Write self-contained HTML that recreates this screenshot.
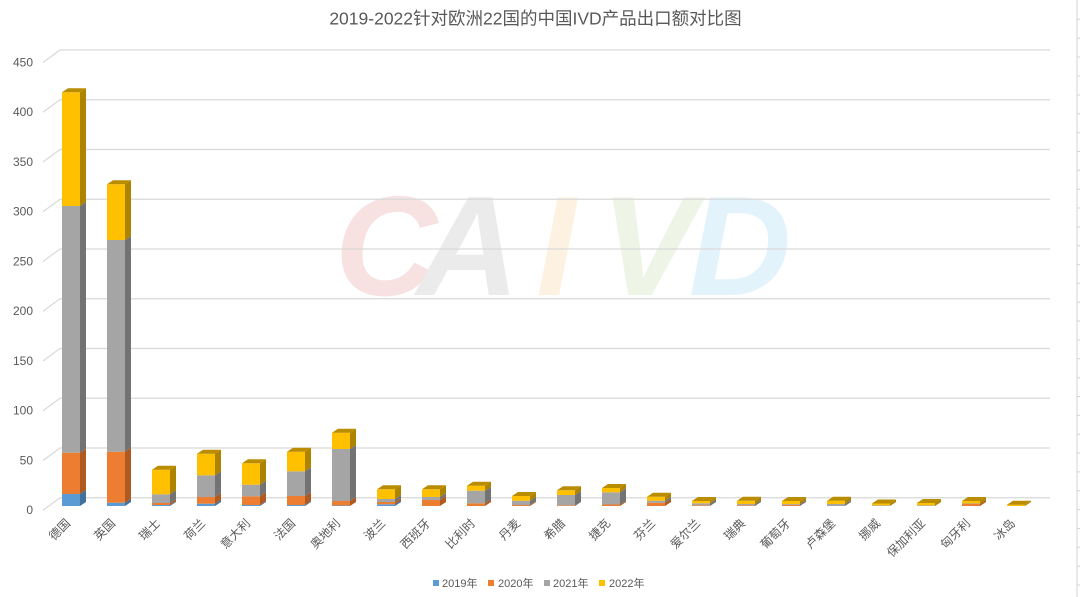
<!DOCTYPE html>
<html>
<head>
<meta charset="utf-8">
<style>
html,body{margin:0;padding:0;background:#fff;}
body{width:1080px;height:597px;overflow:hidden;}
svg{display:block;font-family:"Liberation Sans","Noto Sans CJK SC",sans-serif;}
</style>
</head>
<body>
<svg width="1080" height="597" viewBox="0 0 1080 597" xmlns="http://www.w3.org/2000/svg">
<rect width="1080" height="597" fill="#fff"/>

<!-- watermark -->
<g font-family="'Liberation Sans',sans-serif" font-weight="bold" font-style="italic" font-size="142" text-anchor="middle">
  <text x="386" y="295" fill="#f8e1e1">C</text>
  <text x="468" y="295" fill="#ebebeb">A</text>
  <text x="556" y="295" fill="#fdf2e2">I</text>
  <text x="648" y="295" fill="#eef5e7">V</text>
  <text x="740" y="295" fill="#e3f3fb">D</text>
</g>

<!-- gridlines -->
<g stroke="#d9d9d9" stroke-width="1.2" fill="none">
  <path d="M43,62.5 L60,50 H1050"/>
  <path d="M43,112.25 L60,99.75 H1050"/>
  <path d="M43,162 L60,149.5 H1050"/>
  <path d="M43,211.75 L60,199.25 H1050"/>
  <path d="M43,261.5 L60,249 H1050"/>
  <path d="M43,311.25 L60,298.75 H1050"/>
  <path d="M43,361 L60,348.5 H1050"/>
  <path d="M43,410.75 L60,398.25 H1050"/>
  <path d="M43,460.5 L60,448 H1050"/>
  <path d="M43,510.25 L60,497.75 H1050"/>
</g>

<!-- y labels -->
<g font-size="12" fill="#595959" text-anchor="end">
  <text x="33" y="66.5">450</text>
  <text x="33" y="116.2">400</text>
  <text x="33" y="166">350</text>
  <text x="33" y="215.7">300</text>
  <text x="33" y="265.5">250</text>
  <text x="33" y="315.2">200</text>
  <text x="33" y="365">150</text>
  <text x="33" y="414.7">100</text>
  <text x="33" y="464.5">50</text>
  <text x="33" y="514.2">0</text>
</g>

<!-- title -->
<text x="535.5" y="24.5" font-size="17.5" fill="#595959" text-anchor="middle">2019-2022针对欧洲22国的中国IVD产品出口额对比图</text>

<!-- bars -->
<g>
<!-- 1 德国 -->
<g transform="translate(62,0)">
  <rect x="0" y="494" width="18" height="12" fill="#5B9BD5"/><polygon points="18,506 24,502 24,490 18,494" fill="#41719C"/>
  <rect x="0" y="452.7" width="18" height="41.3" fill="#ED7D31"/><polygon points="18,494 24,490 24,448.7 18,452.7" fill="#AE5A21"/>
  <rect x="0" y="206" width="18" height="246.7" fill="#A5A5A5"/><polygon points="18,452.7 24,448.7 24,202 18,206" fill="#737373"/>
  <rect x="0" y="92.3" width="18" height="113.7" fill="#FFC000"/><polygon points="18,206 24,202 24,88.3 18,92.3" fill="#AD8300"/>
  <polygon points="0,92.3 18,92.3 24,88.3 6,88.3" fill="#BA8C00"/>
</g>
<!-- 2 英国 -->
<g transform="translate(107,0)">
  <rect x="0" y="502.7" width="18" height="3.3" fill="#5B9BD5"/><polygon points="18,506 24,502 24,498.7 18,502.7" fill="#41719C"/>
  <rect x="0" y="451.7" width="18" height="51" fill="#ED7D31"/><polygon points="18,502.7 24,498.7 24,447.7 18,451.7" fill="#AE5A21"/>
  <rect x="0" y="240" width="18" height="211.7" fill="#A5A5A5"/><polygon points="18,451.7 24,447.7 24,236 18,240" fill="#737373"/>
  <rect x="0" y="184.3" width="18" height="55.7" fill="#FFC000"/><polygon points="18,240 24,236 24,180.3 18,184.3" fill="#AD8300"/>
  <polygon points="0,184.3 18,184.3 24,180.3 6,180.3" fill="#BA8C00"/>
</g>
<!-- 3 瑞士 -->
<g transform="translate(152,0)">
  <rect x="0" y="505" width="18" height="1" fill="#5B9BD5"/><polygon points="18,506 24,502 24,501 18,505" fill="#41719C"/>
  <rect x="0" y="503" width="18" height="2" fill="#ED7D31"/><polygon points="18,505 24,501 24,499 18,503" fill="#AE5A21"/>
  <rect x="0" y="494.3" width="18" height="8.7" fill="#A5A5A5"/><polygon points="18,503 24,499 24,490.3 18,494.3" fill="#737373"/>
  <rect x="0" y="469.7" width="18" height="24.6" fill="#FFC000"/><polygon points="18,494.3 24,490.3 24,465.7 18,469.7" fill="#AD8300"/>
  <polygon points="0,469.7 18,469.7 24,465.7 6,465.7" fill="#BA8C00"/>
</g>
<!-- 4 荷兰 -->
<g transform="translate(197,0)">
  <rect x="0" y="503.7" width="18" height="2.3" fill="#5B9BD5"/><polygon points="18,506 24,502 24,499.7 18,503.7" fill="#41719C"/>
  <rect x="0" y="497" width="18" height="6.7" fill="#ED7D31"/><polygon points="18,503.7 24,499.7 24,493 18,497" fill="#AE5A21"/>
  <rect x="0" y="475.3" width="18" height="21.7" fill="#A5A5A5"/><polygon points="18,497 24,493 24,471.3 18,475.3" fill="#737373"/>
  <rect x="0" y="453.7" width="18" height="21.6" fill="#FFC000"/><polygon points="18,475.3 24,471.3 24,449.7 18,453.7" fill="#AD8300"/>
  <polygon points="0,453.7 18,453.7 24,449.7 6,449.7" fill="#BA8C00"/>
</g>
<!-- 5 意大利 -->
<g transform="translate(242,0)">
  <rect x="0" y="505" width="18" height="1" fill="#5B9BD5"/><polygon points="18,506 24,502 24,501 18,505" fill="#41719C"/>
  <rect x="0" y="496.3" width="18" height="8.7" fill="#ED7D31"/><polygon points="18,505 24,501 24,492.3 18,496.3" fill="#AE5A21"/>
  <rect x="0" y="484.7" width="18" height="11.6" fill="#A5A5A5"/><polygon points="18,496.3 24,492.3 24,480.7 18,484.7" fill="#737373"/>
  <rect x="0" y="463.3" width="18" height="21.4" fill="#FFC000"/><polygon points="18,484.7 24,480.7 24,459.3 18,463.3" fill="#AD8300"/>
  <polygon points="0,463.3 18,463.3 24,459.3 6,459.3" fill="#BA8C00"/>
</g>
<!-- 6 法国 -->
<g transform="translate(287,0)">
  <rect x="0" y="505" width="18" height="1" fill="#5B9BD5"/><polygon points="18,506 24,502 24,501 18,505" fill="#41719C"/>
  <rect x="0" y="496" width="18" height="9" fill="#ED7D31"/><polygon points="18,505 24,501 24,492 18,496" fill="#AE5A21"/>
  <rect x="0" y="471.3" width="18" height="24.7" fill="#A5A5A5"/><polygon points="18,496 24,492 24,467.3 18,471.3" fill="#737373"/>
  <rect x="0" y="451.7" width="18" height="19.6" fill="#FFC000"/><polygon points="18,471.3 24,467.3 24,447.7 18,451.7" fill="#AD8300"/>
  <polygon points="0,451.7 18,451.7 24,447.7 6,447.7" fill="#BA8C00"/>
</g>
<!-- 7 奥地利 -->
<g transform="translate(332,0)">
  <rect x="0" y="505.5" width="18" height="0.5" fill="#5B9BD5"/>
  <rect x="0" y="501" width="18" height="4.5" fill="#ED7D31"/><polygon points="18,506 24,502 24,497 18,501" fill="#AE5A21"/>
  <rect x="0" y="449" width="18" height="52" fill="#A5A5A5"/><polygon points="18,501 24,497 24,445 18,449" fill="#737373"/>
  <rect x="0" y="432.7" width="18" height="16.3" fill="#FFC000"/><polygon points="18,449 24,445 24,428.7 18,432.7" fill="#AD8300"/>
  <polygon points="0,432.7 18,432.7 24,428.7 6,428.7" fill="#BA8C00"/>
</g>
<!-- 8 波兰 -->
<g transform="translate(377,0)">
  <rect x="0" y="504.3" width="18" height="1.7" fill="#5B9BD5"/><polygon points="18,506 24,502 24,500.3 18,504.3" fill="#41719C"/>
  <rect x="0" y="502" width="18" height="2.3" fill="#ED7D31"/><polygon points="18,504.3 24,500.3 24,498 18,502" fill="#AE5A21"/>
  <rect x="0" y="499" width="18" height="3" fill="#A5A5A5"/><polygon points="18,502 24,498 24,495 18,499" fill="#737373"/>
  <rect x="0" y="489.3" width="18" height="9.7" fill="#FFC000"/><polygon points="18,499 24,495 24,485.3 18,489.3" fill="#AD8300"/>
  <polygon points="0,489.3 18,489.3 24,485.3 6,485.3" fill="#BA8C00"/>
</g>
<!-- 9 西班牙 -->
<g transform="translate(422,0)">
  <rect x="0" y="500" width="18" height="6" fill="#ED7D31"/><polygon points="18,506 24,502 24,496 18,500" fill="#AE5A21"/>
  <rect x="0" y="497" width="18" height="3" fill="#A5A5A5"/><polygon points="18,500 24,496 24,493 18,497" fill="#737373"/>
  <rect x="0" y="489.3" width="18" height="7.7" fill="#FFC000"/><polygon points="18,497 24,493 24,485.3 18,489.3" fill="#AD8300"/>
  <polygon points="0,489.3 18,489.3 24,485.3 6,485.3" fill="#BA8C00"/>
</g>
<!-- 10 比利时 -->
<g transform="translate(467,0)">
  <rect x="0" y="503.3" width="18" height="2.7" fill="#ED7D31"/><polygon points="18,506 24,502 24,499.3 18,503.3" fill="#AE5A21"/>
  <rect x="0" y="490.7" width="18" height="12.6" fill="#A5A5A5"/><polygon points="18,503.3 24,499.3 24,486.7 18,490.7" fill="#737373"/>
  <rect x="0" y="485.7" width="18" height="5" fill="#FFC000"/><polygon points="18,490.7 24,486.7 24,481.7 18,485.7" fill="#AD8300"/>
  <polygon points="0,485.7 18,485.7 24,481.7 6,481.7" fill="#BA8C00"/>
</g>
<!-- 11 丹麦 -->
<g transform="translate(512,0)">
  <rect x="0" y="505" width="18" height="1" fill="#ED7D31"/><polygon points="18,506 24,502 24,501 18,505" fill="#AE5A21"/>
  <rect x="0" y="500.7" width="18" height="4.3" fill="#A5A5A5"/><polygon points="18,505 24,501 24,496.7 18,500.7" fill="#737373"/>
  <rect x="0" y="496" width="18" height="4.7" fill="#FFC000"/><polygon points="18,500.7 24,496.7 24,492 18,496" fill="#AD8300"/>
  <polygon points="0,496 18,496 24,492 6,492" fill="#BA8C00"/>
</g>
<!-- 12 希腊 -->
<g transform="translate(557,0)">
  <rect x="0" y="505.3" width="18" height="0.7" fill="#ED7D31"/>
  <rect x="0" y="495" width="18" height="10.3" fill="#A5A5A5"/><polygon points="18,506 24,502 24,491 18,495" fill="#737373"/>
  <rect x="0" y="490.3" width="18" height="4.7" fill="#FFC000"/><polygon points="18,495 24,491 24,486.3 18,490.3" fill="#AD8300"/>
  <polygon points="0,490.3 18,490.3 24,486.3 6,486.3" fill="#BA8C00"/>
</g>
<!-- 13 捷克 -->
<g transform="translate(602,0)">
  <rect x="0" y="504.5" width="18" height="1.5" fill="#ED7D31"/><polygon points="18,506 24,502 24,500.5 18,504.5" fill="#AE5A21"/>
  <rect x="0" y="492.3" width="18" height="12.2" fill="#A5A5A5"/><polygon points="18,504.5 24,500.5 24,488.3 18,492.3" fill="#737373"/>
  <rect x="0" y="488" width="18" height="4.3" fill="#FFC000"/><polygon points="18,492.3 24,488.3 24,484 18,488" fill="#AD8300"/>
  <polygon points="0,488 18,488 24,484 6,484" fill="#BA8C00"/>
</g>
<!-- 14 芬兰 -->
<g transform="translate(647,0)">
  <rect x="0" y="502.7" width="18" height="3.3" fill="#ED7D31"/><polygon points="18,506 24,502 24,498.7 18,502.7" fill="#AE5A21"/>
  <rect x="0" y="500.7" width="18" height="2" fill="#A5A5A5"/><polygon points="18,502.7 24,498.7 24,496.7 18,500.7" fill="#737373"/>
  <rect x="0" y="496.7" width="18" height="4" fill="#FFC000"/><polygon points="18,500.7 24,496.7 24,492.7 18,496.7" fill="#AD8300"/>
  <polygon points="0,496.7 18,496.7 24,492.7 6,492.7" fill="#BA8C00"/>
</g>
<!-- 15 爱尔兰 -->
<g transform="translate(692,0)">
  <rect x="0" y="505.3" width="18" height="0.7" fill="#ED7D31"/>
  <rect x="0" y="503.3" width="18" height="2" fill="#A5A5A5"/><polygon points="18,506 24,502 24,499.3 18,503.3" fill="#737373"/>
  <rect x="0" y="501" width="18" height="2.3" fill="#FFC000"/><polygon points="18,503.3 24,499.3 24,497 18,501" fill="#AD8300"/>
  <polygon points="0,501 18,501 24,497 6,497" fill="#BA8C00"/>
</g>
<!-- 16 瑞典 -->
<g transform="translate(737,0)">
  <rect x="0" y="505.3" width="18" height="0.7" fill="#ED7D31"/>
  <rect x="0" y="504" width="18" height="1.3" fill="#A5A5A5"/><polygon points="18,506 24,502 24,500 18,504" fill="#737373"/>
  <rect x="0" y="500.7" width="18" height="3.3" fill="#FFC000"/><polygon points="18,504 24,500 24,496.7 18,500.7" fill="#AD8300"/>
  <polygon points="0,500.7 18,500.7 24,496.7 6,496.7" fill="#BA8C00"/>
</g>
<!-- 17 葡萄牙 -->
<g transform="translate(782,0)">
  <rect x="0" y="504.8" width="18" height="1.2" fill="#ED7D31"/>
  <rect x="0" y="504" width="18" height="0.8" fill="#A5A5A5"/><polygon points="18,506 24,502 24,500 18,504" fill="#737373"/>
  <rect x="0" y="501" width="18" height="3" fill="#FFC000"/><polygon points="18,504 24,500 24,497 18,501" fill="#AD8300"/>
  <polygon points="0,501 18,501 24,497 6,497" fill="#BA8C00"/>
</g>
<!-- 18 卢森堡 -->
<g transform="translate(827,0)">
  <rect x="0" y="504" width="18" height="2" fill="#A5A5A5"/><polygon points="18,506 24,502 24,500 18,504" fill="#737373"/>
  <rect x="0" y="500.7" width="18" height="3.3" fill="#FFC000"/><polygon points="18,504 24,500 24,496.7 18,500.7" fill="#AD8300"/>
  <polygon points="0,500.7 18,500.7 24,496.7 6,496.7" fill="#BA8C00"/>
</g>
<!-- 19 挪威 -->
<g transform="translate(872,0)">
  <rect x="0" y="505.3" width="18" height="0.7" fill="#A5A5A5"/>
  <rect x="0" y="503.5" width="18" height="1.8" fill="#FFC000"/><polygon points="18,506 24,502 24,499.5 18,503.5" fill="#AD8300"/>
  <polygon points="0,503.5 18,503.5 24,499.5 6,499.5" fill="#BA8C00"/>
</g>
<!-- 20 保加利亚 -->
<g transform="translate(917,0)">
  <rect x="0" y="505.3" width="18" height="0.7" fill="#A5A5A5"/>
  <rect x="0" y="503" width="18" height="2.3" fill="#FFC000"/><polygon points="18,506 24,502 24,499 18,503" fill="#AD8300"/>
  <polygon points="0,503 18,503 24,499 6,499" fill="#BA8C00"/>
</g>
<!-- 21 匈牙利 -->
<g transform="translate(962,0)">
  <rect x="0" y="504" width="18" height="2" fill="#ED7D31"/><polygon points="18,506 24,502 24,500 18,504" fill="#AE5A21"/>
  <rect x="0" y="503.5" width="18" height="0.5" fill="#A5A5A5"/>
  <rect x="0" y="501" width="18" height="2.5" fill="#FFC000"/><polygon points="18,504 24,500 24,497 18,501" fill="#AD8300"/>
  <polygon points="0,501 18,501 24,497 6,497" fill="#BA8C00"/>
</g>
<!-- 22 冰岛 -->
<g transform="translate(1007,0)">
  <rect x="0" y="504.7" width="18" height="1.3" fill="#FFC000"/><polygon points="18,506 24,502 24,500.7 18,504.7" fill="#AD8300"/>
  <polygon points="0,504.7 18,504.7 24,500.7 6,500.7" fill="#BA8C00"/>
</g>
</g>

<!-- x labels -->
<g font-size="12" fill="#595959" text-anchor="end">
  <text transform="translate(68,521) rotate(-45)" dy="0.35em">德国</text>
  <text transform="translate(113,521) rotate(-45)" dy="0.35em">英国</text>
  <text transform="translate(158,521) rotate(-45)" dy="0.35em">瑞士</text>
  <text transform="translate(203,521) rotate(-45)" dy="0.35em">荷兰</text>
  <text transform="translate(248,521) rotate(-45)" dy="0.35em">意大利</text>
  <text transform="translate(293,521) rotate(-45)" dy="0.35em">法国</text>
  <text transform="translate(338,521) rotate(-45)" dy="0.35em">奥地利</text>
  <text transform="translate(383,521) rotate(-45)" dy="0.35em">波兰</text>
  <text transform="translate(428,521) rotate(-45)" dy="0.35em">西班牙</text>
  <text transform="translate(473,521) rotate(-45)" dy="0.35em">比利时</text>
  <text transform="translate(518,521) rotate(-45)" dy="0.35em">丹麦</text>
  <text transform="translate(563,521) rotate(-45)" dy="0.35em">希腊</text>
  <text transform="translate(608,521) rotate(-45)" dy="0.35em">捷克</text>
  <text transform="translate(653,521) rotate(-45)" dy="0.35em">芬兰</text>
  <text transform="translate(698,521) rotate(-45)" dy="0.35em">爱尔兰</text>
  <text transform="translate(743,521) rotate(-45)" dy="0.35em">瑞典</text>
  <text transform="translate(788,521) rotate(-45)" dy="0.35em">葡萄牙</text>
  <text transform="translate(833,521) rotate(-45)" dy="0.35em">卢森堡</text>
  <text transform="translate(878,521) rotate(-45)" dy="0.35em">挪威</text>
  <text transform="translate(923,521) rotate(-45)" dy="0.35em">保加利亚</text>
  <text transform="translate(968,521) rotate(-45)" dy="0.35em">匈牙利</text>
  <text transform="translate(1013,521) rotate(-45)" dy="0.35em">冰岛</text>
</g>

<!-- legend -->
<g font-size="11" fill="#595959">
  <rect x="433" y="580" width="6" height="6" fill="#5B9BD5"/><text x="442" y="587">2019年</text>
  <rect x="488" y="580" width="6" height="6" fill="#ED7D31"/><text x="498" y="587">2020年</text>
  <rect x="544" y="580" width="6" height="6" fill="#A5A5A5"/><text x="553" y="587">2021年</text>
  <rect x="599" y="580" width="6" height="6" fill="#FFC000"/><text x="609" y="587">2022年</text>
</g>

<!-- right edge spreadsheet grid -->
<g stroke="#d4d4d4" stroke-width="1">
  <line x1="1077" y1="0" x2="1077" y2="597"/>
  <path d="M1077,19.3H1080 M1077,38.2H1080 M1077,57H1080 M1077,76H1080 M1077,95H1080 M1077,113.8H1080 M1077,132.6H1080 M1077,151.5H1080 M1077,170.3H1080 M1077,189.2H1080 M1077,208H1080 M1077,226.9H1080 M1077,245.7H1080 M1077,264.6H1080 M1077,283.4H1080 M1077,302.3H1080 M1077,321.1H1080 M1077,340H1080 M1077,358.8H1080 M1077,377.7H1080 M1077,396.5H1080 M1077,415.4H1080 M1077,434.2H1080 M1077,453.1H1080 M1077,471.9H1080 M1077,490.8H1080 M1077,509.6H1080 M1077,528.5H1080 M1077,547.3H1080 M1077,566.2H1080 M1077,585H1080"/>
</g>
</svg>
</body>
</html>
